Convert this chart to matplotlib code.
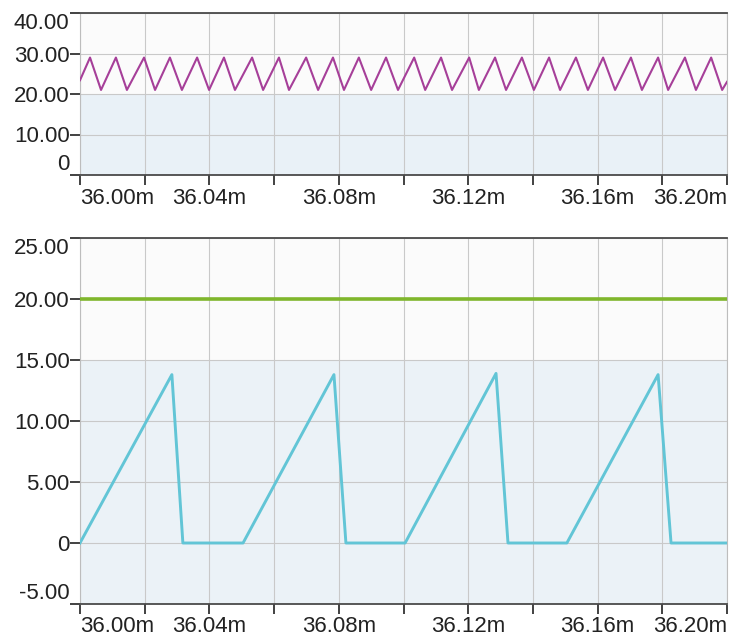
import matplotlib
matplotlib.use("Agg")
import matplotlib.pyplot as plt
from matplotlib.ticker import FixedLocator

# ---------------- data ----------------
# top panel: triangle wave vertices (time in ms, value)
top_t = [36.0000, 36.0031, 36.0065, 36.0111, 36.0145, 36.0198, 36.0232, 36.0278,
         36.0315, 36.0362, 36.0399, 36.0445, 36.0479, 36.0532, 36.0566, 36.0615,
         36.0646, 36.0699, 36.0736, 36.0782, 36.0816, 36.0862, 36.0900, 36.0946,
         36.0983, 36.1033, 36.1067, 36.1116, 36.1150, 36.1203, 36.1233, 36.1283,
         36.1317, 36.1366, 36.1403, 36.1450, 36.1484, 36.1533, 36.1570, 36.1617,
         36.1654, 36.1703, 36.1737, 36.1787, 36.1818, 36.1870, 36.1904, 36.1951,
         36.1985, 36.2000]
top_v = [23.4, 29.0, 21.0, 29.0, 21.0, 29.0, 21.0, 29.0,
         21.0, 29.0, 21.0, 29.0, 21.0, 29.0, 21.0, 29.0,
         21.0, 29.0, 21.0, 29.0, 21.0, 29.0, 21.0, 29.0,
         21.0, 29.0, 21.0, 29.0, 21.0, 29.0, 21.0, 29.0,
         21.0, 29.0, 21.0, 29.0, 21.0, 29.0, 21.0, 29.0,
         21.0, 29.0, 21.0, 29.0, 21.0, 29.0, 21.0, 29.0,
         21.0, 23.0]

# bottom panel: constant green trace and cyan sawtooth vertices
green_t = [36.0000, 36.2000]
green_v = [20.0, 20.0]

saw_t = [36.0000, 36.0284, 36.0318, 36.0504, 36.0785, 36.0822, 36.1005,
         36.1286, 36.1323, 36.1505, 36.1787, 36.1827, 36.2000]
saw_v = [0.0, 13.8, 0.0, 0.0, 13.8, 0.0, 0.0,
         13.9, 0.0, 0.0, 13.8, 0.0, 0.0]

x_ticks = [36.00, 36.02, 36.04, 36.06, 36.08, 36.10, 36.12, 36.14, 36.16, 36.18, 36.20]
x_labels = ["36.00m", "", "36.04m", "", "36.08m", "", "36.12m", "", "36.16m", "", "36.20m"]
top_yticks = [0, 10, 20, 30, 40]
top_ylabels = ["0", "10.00", "20.00", "30.00", "40.00"]
bot_yticks = [-5, 0, 5, 10, 15, 20, 25]
bot_ylabels = ["-5.00", "0", "5.00", "10.00", "15.00", "20.00", "25.00"]

# ---------------- styling ----------------
plt.rcParams['font.family'] = ['Liberation Sans', 'DejaVu Sans']

W, H = 729, 639
fig = plt.figure(figsize=(W / 100, H / 100), dpi=100)
fig.patch.set_facecolor('white')

ax1 = fig.add_axes([80 / W, 1 - 175 / H, 647 / W, 162 / H])
ax2 = fig.add_axes([80 / W, 1 - 604 / H, 647 / W, 366 / H])

ax1.plot(top_t, top_v, color='#a63f99', lw=1.5, zorder=3)
ax2.plot(green_t, green_v, color='#7fb62c', lw=2.6, zorder=3)
ax2.plot(saw_t, saw_v, color='#62c5d6', lw=2.1, zorder=3)

ax1.axhspan(0, 20, color='#e9f1f7', zorder=0, lw=0)
ax2.axhspan(-5, 15, color='#ebf2f7', zorder=0, lw=0)

for ax, yt, yl, ylim in [(ax1, top_yticks, top_ylabels, (0, 40)),
                         (ax2, bot_yticks, bot_ylabels, (-5, 25))]:
    ax.set_facecolor('#fbfbfb')
    ax.set_xlim(36.0, 36.2)
    ax.set_ylim(*ylim)
    ax.xaxis.set_major_locator(FixedLocator(x_ticks))
    ax.set_xticklabels(x_labels)
    ax.yaxis.set_major_locator(FixedLocator(yt))
    ax.set_yticklabels(yl)
    ax.grid(True, color='#c9c9c9', lw=0.8, zorder=1)
    ax.set_axisbelow(True)
    for s in ['top', 'bottom']:
        ax.spines[s].set_color('#4a4a4a')
        ax.spines[s].set_linewidth(1.3)
    for s in ['left', 'right']:
        ax.spines[s].set_color('#bdbdbd')
        ax.spines[s].set_linewidth(0.8)
    ax.tick_params(axis='both', direction='out', length=7, width=1.3,
                   color='#333333', labelsize=16, labelcolor='#222222')
    ax.tick_params(axis='y', pad=0.5)
    ax.tick_params(axis='x', pad=2)
    xl = ax.get_xticklabels()
    xl[0].set_horizontalalignment('left')
    xl[-1].set_horizontalalignment('right')
    ylb = ax.get_yticklabels()
    ylb[0].set_verticalalignment('bottom')
    ylb[-1].set_verticalalignment('top')

fig.savefig('out.png', dpi=100, facecolor=fig.get_facecolor())
